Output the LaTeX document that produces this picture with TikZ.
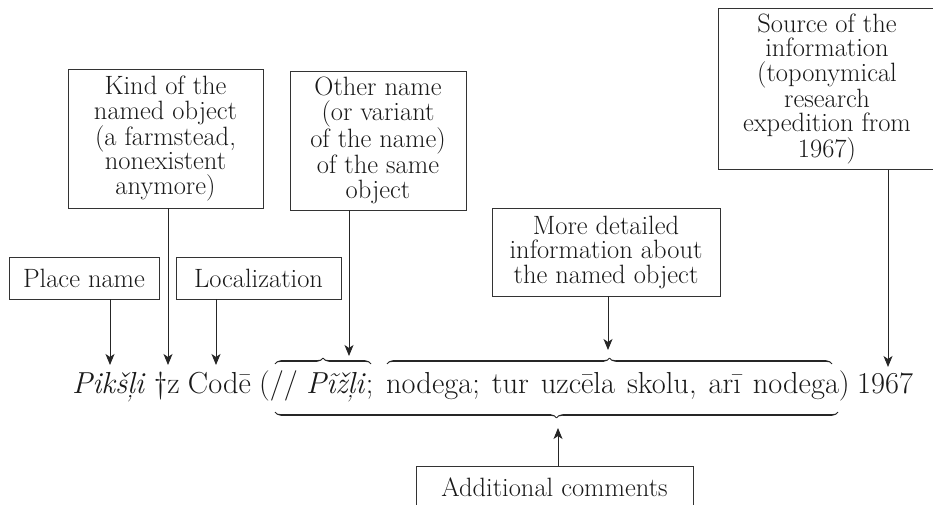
\documentclass[tikz,border=0pt]{standalone}
\usepackage{fontspec}
\usetikzlibrary{arrows.meta,decorations.pathreplacing,calligraphy}
\newcommand\boxfont{\fontsize{26.5}{24.5}\selectfont}
\newcommand\linefont{\fontsize{30.4}{34}\selectfont}
\begin{document}
\begin{tikzpicture}[x=1pt,y=-1pt,
  box/.style={draw=black!80, line width=0.9pt, inner sep=0pt, align=center, font=\boxfont, text=black!90},
  seg/.style={anchor=base west, inner sep=0pt, font=\linefont, text=black!90},
  arr/.style={-{Stealth[length=11pt,width=9pt,inset=3pt]}, line width=0.9pt, draw=black!85, fill=black!85},
  brc/.style={decorate, decoration={calligraphic brace, amplitude=6pt}, line width=1.6pt, pen colour={black!85}}]
\useasboundingbox (0,0) rectangle (933,505);
\clip (0,0) rectangle (933,505);
% boxes
\node[box, minimum width=150pt, minimum height=42pt] (place) at (84,278) {Place name};
\node[box, minimum width=165pt, minimum height=42pt] (loc) at (258.5,278) {Localization};
\node[box, minimum width=195pt, minimum height=139pt] (kind) at (165.5,138.5) {Kind of the\\named object\\(a farmstead,\\nonexistent\\anymore)};
\node[box, minimum width=176pt, minimum height=139pt] (other) at (378,140.5) {Other name\\(or variant\\of the name)\\of the same\\object};
\node[box, minimum width=228pt, minimum height=88pt] (more) at (606,252) {More detailed\\information about\\the named object};
\node[box, minimum width=218pt, minimum height=161pt] (src) at (827,89) {Source of the\\information\\(toponymical\\research\\expedition from\\1967)};
\node[box, minimum width=277pt, minimum height=42pt] (add) at (554.5,487) {Additional comments};
% main line
\node[seg] (line1) at (72,393) {\spaceskip=8.3pt \textit{Pikšļi} \textdagger z Codē (// \textit{Pĩžļi};};
\node[seg] (line2) at (386,393) {\spaceskip=12pt nodega; tur uzcēla skolu, arī nodega)};
\node[seg] (line3) at (857,393) {1967};
% arrow targets
\coordinate (tPk) at (110,365);
\coordinate (tDag) at (168,365);
\coordinate (tCod) at (216,365);
\coordinate (tOth) at (349,356);
\coordinate (tMore) at (608,350);
\coordinate (tSrc) at (888,367);
\coordinate (tAdd) at (558,428);
\draw[arr] (place.south -| tPk) -- (tPk);
\draw[arr] (kind.south -| tDag) -- (tDag);
\draw[arr] (loc.south -| tCod) -- (tCod);
\draw[arr] (other.south -| tOth) -- (tOth);
\draw[arr] (more.south -| tMore) -- (tMore);
\draw[arr] (src.south -| tSrc) -- (tSrc);
\draw[arr] (add.north -| tAdd) -- (tAdd);
% braces
\coordinate (b1a) at (275,364);
\coordinate (b1b) at (371,364);
\coordinate (b2a) at (387,364);
\coordinate (b2b) at (832,364);
\coordinate (b3a) at (838,412);
\coordinate (b3b) at (275,412);
\draw[brc] (b1a) -- (b1b);
\draw[brc] (b2a) -- (b2b);
\draw[brc] (b3a) -- (b3b);
\end{tikzpicture}
\end{document}
